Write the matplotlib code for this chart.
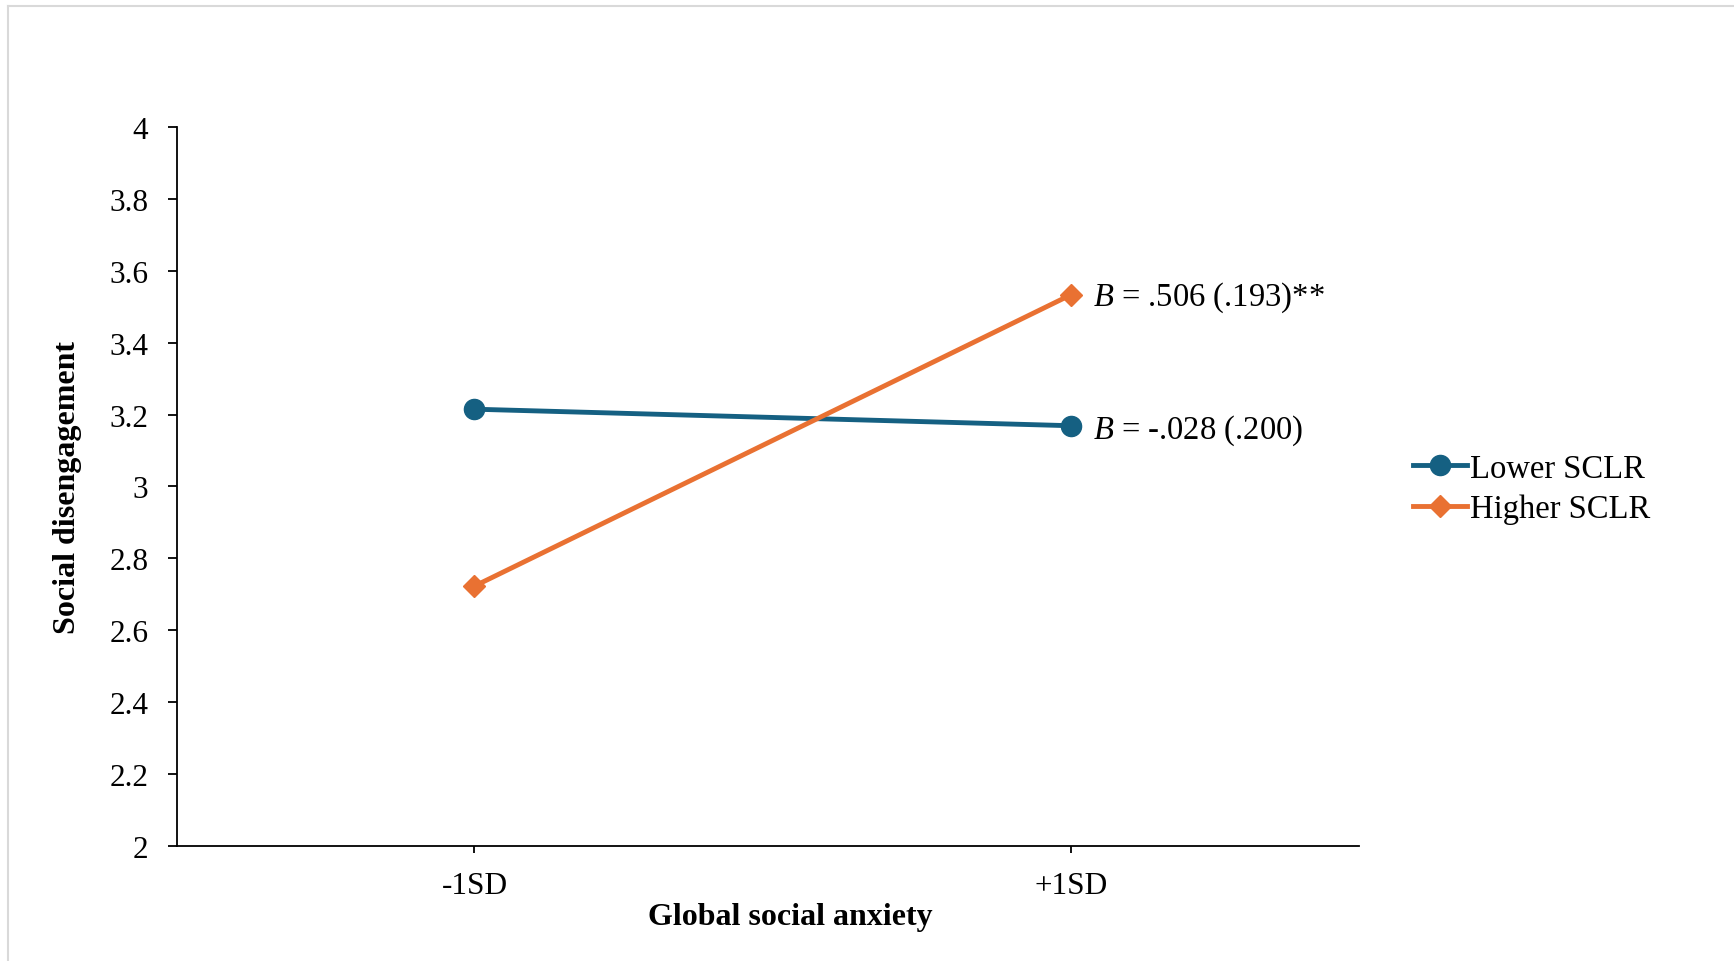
import numpy as np
import matplotlib
matplotlib.use('Agg')
import matplotlib.pyplot as plt
from matplotlib.lines import Line2D

plt.rcParams['font.family'] = ['Liberation Serif', 'DejaVu Serif']
plt.rcParams['mathtext.fontset'] = 'custom'
plt.rcParams['mathtext.rm'] = 'Liberation Serif'
plt.rcParams['mathtext.it'] = 'Liberation Serif:italic'

# data
categories = ['-1SD', '+1SD']
lower_sclr = [3.215, 3.169]
higher_sclr = [2.723, 3.533]
series_names = ['Lower SCLR', 'Higher SCLR']
slope_labels = ['$B$ = -.028 (.200)', '$B$ = .506 (.193)**']
y_ticks = [2, 2.2, 2.4, 2.6, 2.8, 3, 3.2, 3.4, 3.6, 3.8, 4]

blue = '#156082'
orange = '#E97132'
fs = 23.5

fig = plt.figure(figsize=(17.34, 9.62), dpi=100)
ax = fig.add_axes([0.102, 0.1195, 0.682, 0.7475])

x = np.arange(len(categories))
ax.plot(x, lower_sclr, color=blue, lw=3.5, marker='o', ms=14.5, label=series_names[0], zorder=3)
ax.plot(x, higher_sclr, color=orange, lw=3.5, marker='D', ms=11.5, label=series_names[1], zorder=4)

# slope annotations next to the +1SD points
for vals, txt, dy in zip([lower_sclr, higher_sclr], slope_labels, [-3, -1.5]):
    ax.annotate(txt, xy=(x[-1], vals[-1]), xytext=(16, dy), textcoords='offset points',
                ha='left', va='center', fontsize=fs)

ax.set_xlim(-0.499, 1.484)
ax.set_ylim(2, 4)
ax.set_xticks(x)
ax.set_xticklabels(categories)
ax.set_yticks(y_ticks)
ax.set_yticklabels([f'{v:g}' for v in y_ticks])

for s in ['top', 'right']:
    ax.spines[s].set_visible(False)
for s in ['left', 'bottom']:
    ax.spines[s].set_linewidth(1.3)
    ax.spines[s].set_color('black')

ax.tick_params(axis='y', direction='out', length=6.5, width=1.3, pad=14, labelsize=22.5)
ax.tick_params(axis='x', direction='out', length=5, width=1.3, pad=13, labelsize=22.5)

ax.set_xlabel('Global social anxiety', fontsize=23, fontweight='bold')
ax.xaxis.set_label_coords(0.519, -0.078)
ax.set_ylabel('Social disengagement', fontsize=23, fontweight='bold')
ax.yaxis.set_label_coords(-0.080, 0.5)

fig.legend(loc='center left', bbox_to_anchor=(0.815, 0.491), frameon=False,
           fontsize=fs, handlelength=1.65, handletextpad=0.1, labelspacing=0.3,
           borderaxespad=0, borderpad=0)

# light grey frame on top and left edges
fig.add_artist(Line2D([0.0049, 1], [0.9927, 0.9927], transform=fig.transFigure, color='#d9d9d9', lw=1.5))
fig.add_artist(Line2D([0.0049, 0.0049], [0, 0.9927], transform=fig.transFigure, color='#d9d9d9', lw=1.5))

fig.savefig('out.png', dpi=100)
